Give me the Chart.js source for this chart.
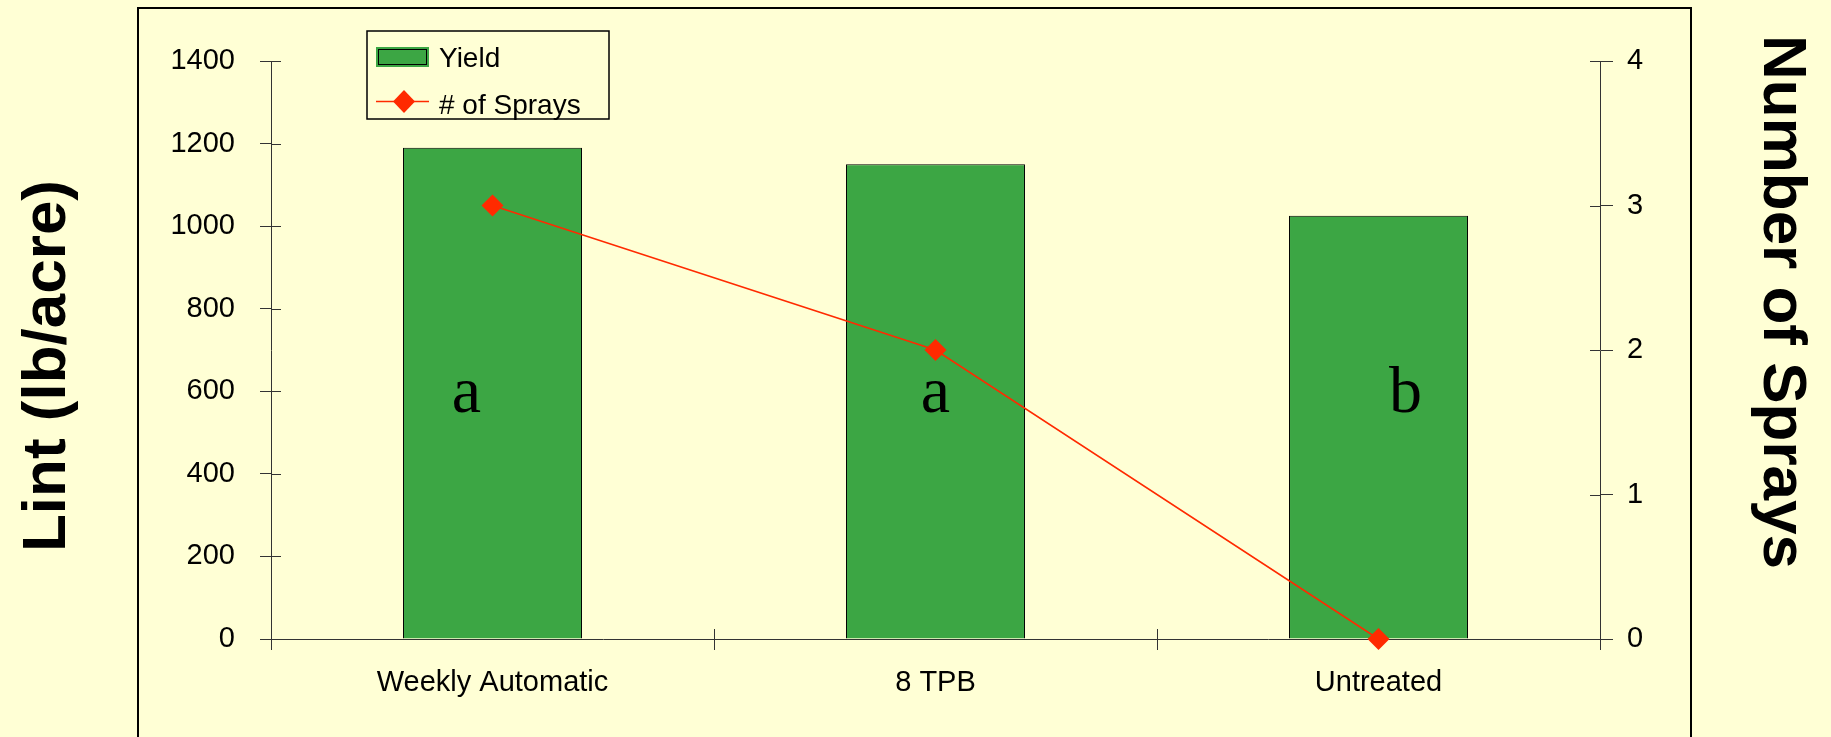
<!DOCTYPE html>
<html>
<head>
<meta charset="utf-8">
<title>Lint yield and number of sprays</title>
<script src="https://cdn.jsdelivr.net/npm/chart.js@4.4.1/dist/chart.umd.min.js"></script>
<style>
  html, body { margin: 0; padding: 0; background: #ffffd5; }
  #wrap { width: 1831px; height: 737px; }
</style>
</head>
<body>
<div id="wrap"><canvas id="chart-yield" width="1831" height="737"></canvas></div>
<script>
// treatments on the x axis
const categories = ["Weekly Automatic", "8 TPB", "Untreated"];
// lint yield, lb/acre (left axis)
const yieldLint = [1190, 1150, 1025];
// number of sprays applied (right axis)
const numSprays = [3, 2, 0];
// mean separation letters drawn on the bars
const sigLetters = ["a", "a", "b"];

const barGreen = "#3ca644";
const sprayRed = "#ff2a00";
const axisColor = "#333333";

Chart.defaults.font.family = "'Liberation Sans', Arial, sans-serif";
Chart.defaults.color = "#000000";

// extra drawing: frame, inner tick halves, axis titles, legend box, letters
const decorPlugin = {
  id: "decor",
  afterDraw(chart) {
    const { ctx, chartArea, scales } = chart;
    const x = scales.x, y = scales.y, y2 = scales.y2;
    ctx.save();

    // outer frame
    ctx.strokeStyle = "#000000";
    ctx.lineWidth = 2;
    ctx.strokeRect(138, 8, 1553, 760);

    // tick marks cross the axes, draw the inside half
    ctx.strokeStyle = axisColor;
    ctx.lineWidth = 1;
    ctx.beginPath();
    y.ticks.forEach((t) => {
      const py = Math.round(y.getPixelForValue(t.value)) + 0.5;
      ctx.moveTo(chartArea.left, py);
      ctx.lineTo(chartArea.left + 10, py);
    });
    y2.ticks.forEach((t) => {
      const py = Math.round(y2.getPixelForValue(t.value)) + 0.5;
      ctx.moveTo(chartArea.right - 10, py);
      ctx.lineTo(chartArea.right, py);
    });
    for (let i = 1; i < categories.length; i++) {
      const px = Math.round(x.getPixelForValue(i - 0.5)) + 0.5;
      ctx.moveTo(px, chartArea.bottom - 10);
      ctx.lineTo(px, chartArea.bottom);
    }
    ctx.stroke();

    // letters on the bars
    const letterShift = [-26, 0, 27];
    ctx.fillStyle = "#000000";
    ctx.font = "66px 'Liberation Serif', 'Times New Roman', serif";
    ctx.textAlign = "center";
    ctx.textBaseline = "alphabetic";
    sigLetters.forEach((s, i) => {
      ctx.fillText(s, x.getPixelForValue(i) + letterShift[i], y.getPixelForValue(550));
    });

    // axis titles
    ctx.font = "bold 62px 'Liberation Sans', Arial, sans-serif";
    ctx.save();
    ctx.translate(65, 366);
    ctx.rotate(-Math.PI / 2);
    ctx.fillText(y.options.title.text, 0, 0);
    ctx.restore();
    ctx.save();
    ctx.translate(1764, 302);
    ctx.rotate(Math.PI / 2);
    ctx.fillText(y2.options.title.text, 0, 0);
    ctx.restore();

    // legend box
    const barDs = chart.data.datasets.find((d) => d.type !== "line");
    const lineDs = chart.data.datasets.find((d) => d.type === "line");
    ctx.fillStyle = "#ffffd5";
    ctx.fillRect(367, 31, 242, 88);
    ctx.strokeStyle = "#000000";
    ctx.lineWidth = 1.5;
    ctx.strokeRect(367, 31, 242, 88);

    ctx.fillStyle = barDs.backgroundColor;
    ctx.fillRect(376, 47, 53, 20);
    ctx.strokeStyle = "#000000";
    ctx.lineWidth = 1;
    ctx.strokeRect(378.5, 49.5, 48, 15);

    ctx.strokeStyle = lineDs.borderColor;
    ctx.lineWidth = 1.5;
    ctx.beginPath();
    ctx.moveTo(376, 101.5);
    ctx.lineTo(429, 101.5);
    ctx.stroke();
    ctx.fillStyle = lineDs.backgroundColor;
    ctx.beginPath();
    ctx.moveTo(404, 90);
    ctx.lineTo(415, 101.5);
    ctx.lineTo(404, 113);
    ctx.lineTo(393, 101.5);
    ctx.closePath();
    ctx.fill();

    ctx.fillStyle = "#000000";
    ctx.font = "28px 'Liberation Sans', Arial, sans-serif";
    ctx.textAlign = "left";
    ctx.fillText(barDs.label, 439, 67);
    ctx.fillText(lineDs.label, 439, 114);

    ctx.restore();
  },
};

const ctxYield = document.getElementById("chart-yield");

new Chart(ctxYield, {
  type: "bar",
  data: {
    labels: categories,
    datasets: [
      {
        type: "line",
        label: "# of Sprays",
        data: numSprays,
        yAxisID: "y2",
        borderColor: sprayRed,
        backgroundColor: sprayRed,
        borderWidth: 1.5,
        pointStyle: "rectRot",
        pointRadius: 11,
        pointBorderWidth: 0,
        tension: 0,
        clip: false,
        order: 1,
      },
      {
        type: "bar",
        label: "Yield",
        data: yieldLint,
        yAxisID: "y",
        backgroundColor: barGreen,
        borderColor: "#000000",
        borderWidth: 1,
        categoryPercentage: 1,
        barPercentage: 0.404,
        order: 2,
      },
    ],
  },
  options: {
    responsive: false,
    animation: false,
    layout: { padding: { top: 61, left: 0, right: 0, bottom: 0 } },
    plugins: {
      legend: { display: false },
      tooltip: { enabled: false },
    },
    scales: {
      x: {
        afterFit: (scale) => { scale.height = 98; },
        border: { color: axisColor, width: 1 },
        grid: { drawOnChartArea: false, color: axisColor, tickLength: 11 },
        ticks: { font: { size: 29 }, padding: 16, color: "#000000" },
      },
      y: {
        position: "left",
        min: 0,
        max: 1400,
        afterFit: (scale) => { scale.width = 271; },
        title: { display: false, text: "Lint (lb/acre)" },
        border: { color: axisColor, width: 1 },
        grid: { drawOnChartArea: false, color: axisColor, tickLength: 11 },
        ticks: {
          stepSize: 200,
          font: { size: 29 },
          padding: 25,
          color: "#000000",
          callback: (value) => String(value),
        },
      },
      y2: {
        position: "right",
        min: 0,
        max: 4,
        afterFit: (scale) => { scale.width = 231; },
        title: { display: false, text: "Number of Sprays" },
        border: { color: axisColor, width: 1 },
        grid: { drawOnChartArea: false, color: axisColor, tickLength: 13 },
        ticks: {
          stepSize: 1,
          font: { size: 29 },
          padding: 14,
          color: "#000000",
          callback: (value) => String(value),
        },
      },
    },
  },
  plugins: [decorPlugin],
});
</script>
</body>
</html>
